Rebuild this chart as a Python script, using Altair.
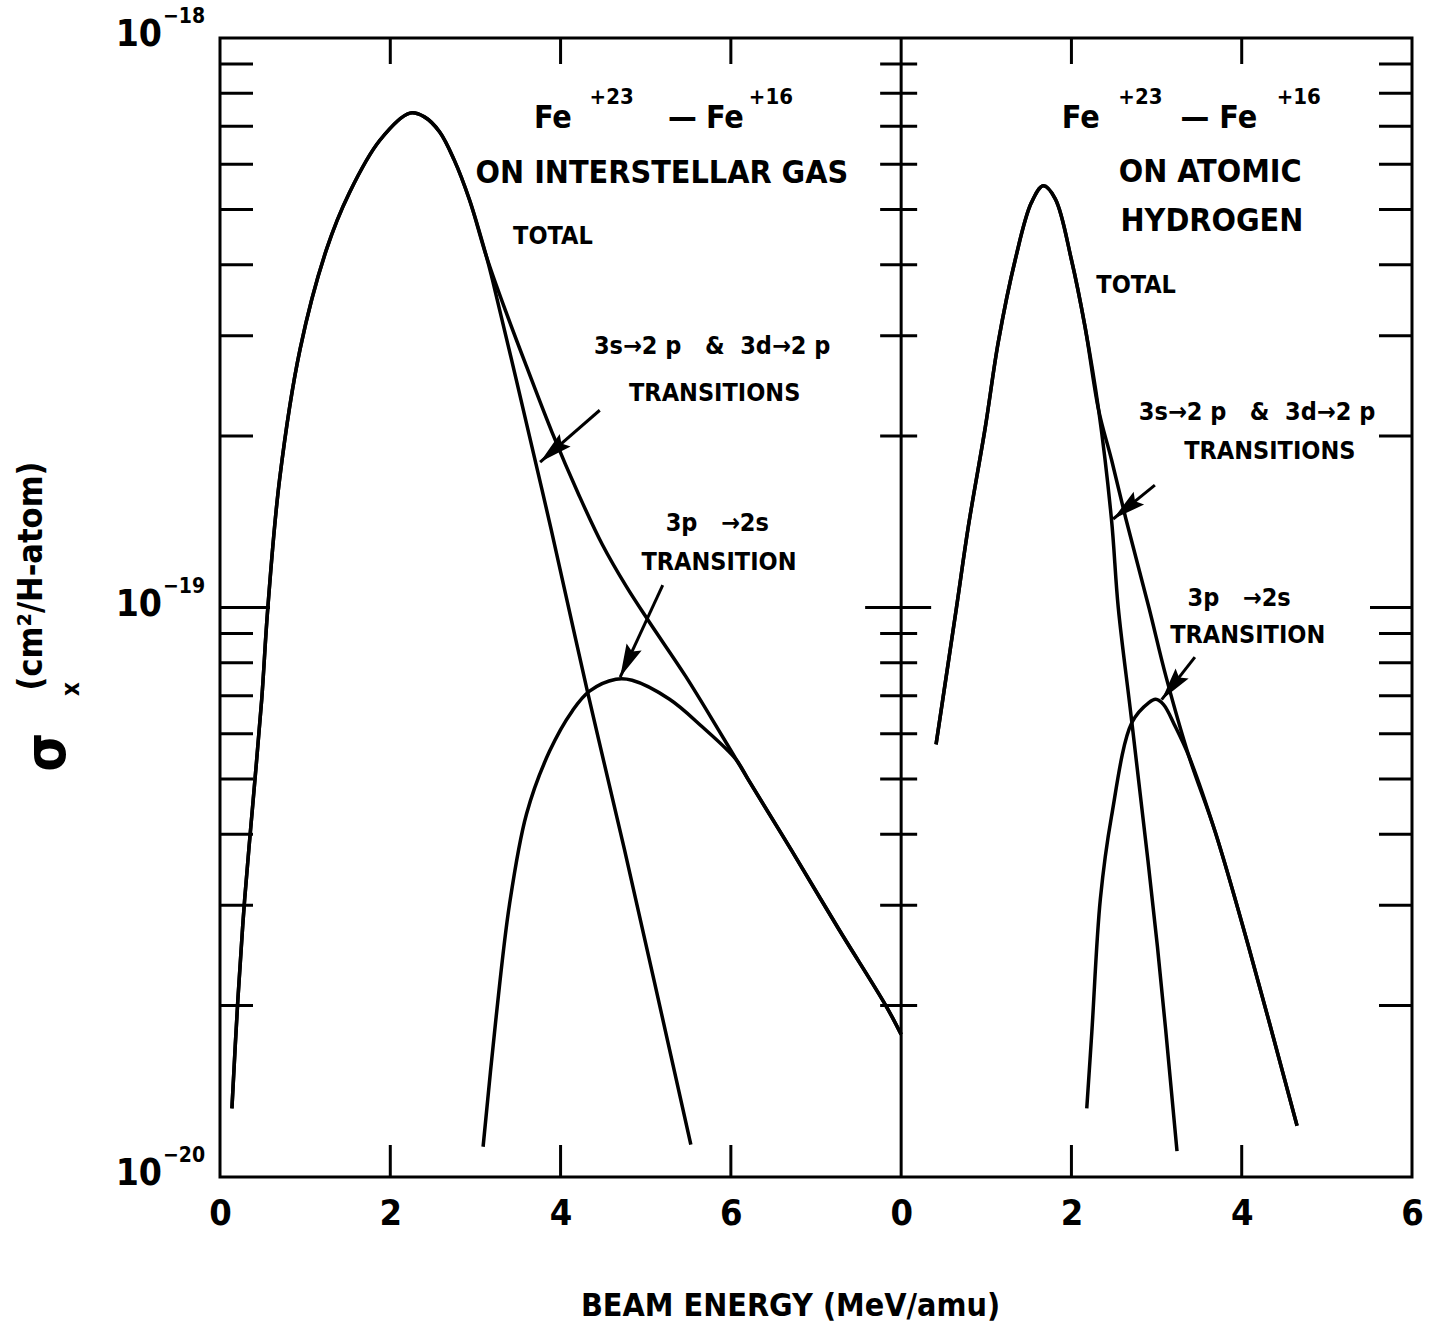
import math
import altair as alt
import pandas as pd

# ---------------- values ----------------
# x: beam energy (MeV/amu); y: cross section sigma_x (cm^2 / H-atom)

# Left panel: Fe+23 - Fe+16 on interstellar gas
gas_total_x = [0.14, 0.21, 0.29, 0.39, 0.49, 0.56, 0.70, 0.94, 1.25, 1.52, 1.88, 2.23, 2.40, 2.58, 2.75, 2.93, 3.13,
               3.36, 3.60, 3.90, 4.22, 4.49, 4.77, 5.04, 5.47, 5.86, 6.21, 6.72, 7.27, 7.82, 8.00]
gas_total_y = [1.32e-20, 2.05e-20, 3.08e-20, 4.60e-20, 6.90e-20, 9.91e-20, 1.68e-19, 2.84e-19, 4.25e-19,
               5.35e-19, 6.62e-19, 7.38e-19, 7.27e-19, 6.84e-19, 6.11e-19, 5.20e-19, 4.13e-19,
               3.30e-19, 2.65e-19, 2.03e-19, 1.57e-19, 1.29e-19, 1.09e-19, 9.44e-20, 7.57e-20, 6.08e-20,
               4.97e-20, 3.73e-20, 2.72e-20, 2.00e-20, 1.78e-20]
gas_3s3d_x = [0.14, 0.21, 0.29, 0.39, 0.49, 0.56, 0.70, 0.94, 1.25, 1.52, 1.88, 2.23, 2.40, 2.58, 2.75, 2.93, 3.13,
              3.20, 3.48, 3.89, 4.31, 4.75, 5.53]
gas_3s3d_y = [1.32e-20, 2.05e-20, 3.08e-20, 4.60e-20, 6.90e-20, 9.91e-20, 1.68e-19, 2.84e-19, 4.25e-19,
              5.35e-19, 6.62e-19, 7.38e-19, 7.27e-19, 6.84e-19, 6.11e-19, 5.20e-19, 4.13e-19,
              3.76e-19, 2.51e-19, 1.37e-19, 7.18e-20, 3.76e-20, 1.14e-20]
gas_3p_x = [3.09, 3.24, 3.40, 3.60, 3.87, 4.14, 4.34, 4.65, 4.84, 5.28, 5.66, 6.06, 6.21, 6.72, 7.27, 7.82, 8.00]
gas_3p_y = [1.13e-20, 1.89e-20, 3.01e-20, 4.34e-20, 5.59e-20, 6.59e-20, 7.13e-20, 7.48e-20, 7.45e-20,
            6.90e-20, 6.18e-20, 5.41e-20, 4.97e-20, 3.73e-20, 2.72e-20, 2.00e-20, 1.78e-20]

# Right panel: Fe+23 - Fe+16 on atomic hydrogen
h_total_x = [0.41, 0.65, 0.79, 0.99, 1.14, 1.34, 1.53, 1.67, 1.81, 2.00, 2.16, 2.32,
             2.47, 2.64, 2.91, 3.11, 3.38, 3.69, 4.08, 4.65]
h_total_y = [5.75e-20, 1.00e-19, 1.39e-19, 2.08e-19, 2.92e-19, 4.08e-19, 5.14e-19, 5.50e-19, 5.22e-19,
             4.08e-19, 3.11e-19, 2.22e-19,
             1.82e-19, 1.43e-19, 1.00e-19, 7.57e-20, 5.48e-20, 4.03e-20, 2.54e-20, 1.23e-20]
h_3s3d_x = [0.41, 0.65, 0.79, 0.99, 1.14, 1.34, 1.53, 1.67, 1.81, 2.00, 2.16, 2.32,
            2.47, 2.55, 2.71, 3.01, 3.24]
h_3s3d_y = [5.75e-20, 1.00e-19, 1.39e-19, 2.08e-19, 2.92e-19, 4.08e-19, 5.14e-19, 5.50e-19, 5.22e-19,
            4.08e-19, 3.11e-19, 2.22e-19,
            1.43e-19, 1.00e-19, 6.28e-20, 2.54e-20, 1.11e-20]
h_3p_x = [2.18, 2.24, 2.34, 2.47, 2.71, 2.91, 2.99, 3.08, 3.22, 3.38, 3.69, 4.08, 4.65]
h_3p_y = [1.32e-20, 1.80e-20, 3.08e-20, 4.29e-20, 6.28e-20, 6.81e-20, 6.90e-20, 6.76e-20, 6.18e-20,
          5.48e-20, 4.03e-20, 2.54e-20, 1.23e-20]

# axis tick values / labels
x_label_values = [0, 2, 4, 6, 8, 10, 12, 14]
x_inner_ticks = [2, 4, 6, 10, 12]
minor_y = [2e-20, 3e-20, 4e-20, 5e-20, 6e-20, 7e-20, 8e-20, 9e-20,
           2e-19, 3e-19, 4e-19, 5e-19, 6e-19, 7e-19, 8e-19, 9e-19]
decades = [1e-20, 1e-19, 1e-18]
decade_exp = ["\u221220", "\u221219", "\u221218"]

RIGHT_OFFSET = 8.0   # right panel starts where the left panel ends (x = 8)

NB = "\u00a0"
# annotations: (panel, x in MeV/amu of that panel, y, text)
title_texts = [
    ("L", 3.91, 7.24e-19, "Fe"), ("L", 5.43, 7.24e-19, "\u2014"), ("L", 5.93, 7.24e-19, "Fe"),
    ("L", 5.19, 5.79e-19, "ON INTERSTELLAR GAS"),
    ("R", 2.11, 7.24e-19, "Fe"), ("R", 3.45, 7.24e-19, "\u2014"), ("R", 3.96, 7.24e-19, "Fe"),
    ("R", 3.63, 5.82e-19, "ON ATOMIC"), ("R", 3.65, 4.77e-19, "HYDROGEN"),
]
super_texts = [
    ("L", 4.60, 7.88e-19, "+23"), ("L", 6.47, 7.88e-19, "+16"),
    ("R", 2.81, 7.88e-19, "+23"), ("R", 4.67, 7.88e-19, "+16"),
]
TRANS_3S = "3s\u21922" + NB + "p" + NB * 3 + "&" + NB * 2 + "3d\u21922" + NB + "p"
TRANS_3P = "3p" + NB * 3 + "\u21922s"
label_texts = [
    ("L", 3.91, 4.49e-19, "TOTAL"),
    ("L", 5.78, 2.88e-19, TRANS_3S),
    ("L", 5.81, 2.38e-19, "TRANSITIONS"),
    ("L", 5.84, 1.41e-19, TRANS_3P),
    ("L", 5.86, 1.20e-19, "TRANSITION"),
    ("R", 2.76, 3.68e-19, "TOTAL"),
    ("R", 4.18, 2.20e-19, TRANS_3S),
    ("R", 4.33, 1.88e-19, "TRANSITIONS"),
    ("R", 3.97, 1.04e-19, TRANS_3P),
    ("R", 4.07, 8.95e-20, "TRANSITION"),
]
# arrows: (panel, x_tail, y_tail, x_head, y_head)
arrows = [
    ("L", 4.46, 2.22e-19, 3.76, 1.80e-19),
    ("L", 5.20, 1.095e-19, 4.70, 7.55e-20),
    ("R", 2.98, 1.64e-19, 2.49, 1.43e-19),
    ("R", 3.45, 8.18e-20, 3.06, 6.89e-20),
]

# ---------------- layout / style ----------------
FONT = "'Liberation Sans Narrow', 'DejaVu Sans Condensed', 'Arial Narrow', sans-serif"
W, H = 1192, 1139
X_DIV = 8.0 / 14.0 * W

xscale = alt.Scale(domain=[0, 14], nice=False, zero=False)
yscale = alt.Scale(type="log", domain=[1e-20, 1e-18], nice=False)

x_axis = alt.Axis(
    values=x_label_values,
    labelExpr="datum.value >= 8 ? '' + (datum.value - 8) : '' + datum.value",
    ticks=False, domain=False, grid=False,
    labelFont=FONT, labelFontSize=36, labelFontWeight="bold", labelColor="black",
    labelPadding=36, labelBaseline="middle", labelFlush=False, labelOverlap=False,
    title="BEAM ENERGY (MeV/amu)", titleFont=FONT, titleFontSize=32, titleFontWeight="bold",
    titleColor="black", titleX=570, titleY=128, titleAlign="center", titleBaseline="middle",
)


def X(field):
    return alt.X(field, scale=xscale, axis=x_axis)


def Y(field):
    return alt.Y(field, scale=yscale, axis=None)


def off(panel):
    return RIGHT_OFFSET if panel == "R" else 0.0


# curves table
rows = []
for name, xs, ys, p in [
    ("gas_total", gas_total_x, gas_total_y, "L"),
    ("gas_3s3d", gas_3s3d_x, gas_3s3d_y, "L"),
    ("gas_3p", gas_3p_x, gas_3p_y, "L"),
    ("h_total", h_total_x, h_total_y, "R"),
    ("h_3s3d", h_3s3d_x, h_3s3d_y, "R"),
    ("h_3p", h_3p_x, h_3p_y, "R"),
]:
    for i, (xv, yv) in enumerate(zip(xs, ys)):
        rows.append({"series": name, "x": xv + off(p), "v": yv, "i": i})
curves_df = pd.DataFrame(rows)

curves = alt.Chart(curves_df).mark_line(
    color="black", strokeWidth=3.5, interpolate="catmull-rom"
).encode(
    x=X("x:Q"), y=Y("v:Q"), detail="series:N", order="i:Q"
)

divider = alt.Chart(pd.DataFrame({"x": [RIGHT_OFFSET]})).mark_rule(
    color="black", strokeWidth=3).encode(x=X("x:Q"))

minor_df = pd.DataFrame({"v": minor_y})
dec_df = pd.DataFrame({"v": [1e-19]})
TICK = dict(color="black", strokeWidth=3)
ticks = [
    alt.Chart(minor_df).mark_rule(**TICK).encode(y=Y("v:Q"), x=alt.value(0), x2=alt.value(33)),
    alt.Chart(minor_df).mark_rule(**TICK).encode(y=Y("v:Q"), x=alt.value(X_DIV - 21), x2=alt.value(X_DIV + 16)),
    alt.Chart(minor_df).mark_rule(**TICK).encode(y=Y("v:Q"), x=alt.value(W - 33), x2=alt.value(W)),
    alt.Chart(dec_df).mark_rule(**TICK).encode(y=Y("v:Q"), x=alt.value(0), x2=alt.value(50)),
    alt.Chart(dec_df).mark_rule(**TICK).encode(y=Y("v:Q"), x=alt.value(X_DIV - 36), x2=alt.value(X_DIV + 30)),
    alt.Chart(dec_df).mark_rule(**TICK).encode(y=Y("v:Q"), x=alt.value(W - 42), x2=alt.value(W)),
]
xt_df = pd.DataFrame({"x": x_inner_ticks})
ticks += [
    alt.Chart(xt_df).mark_rule(**TICK).encode(x=X("x:Q"), y=alt.value(0), y2=alt.value(26)),
    alt.Chart(xt_df).mark_rule(**TICK).encode(x=X("x:Q"), y=alt.value(H - 32), y2=alt.value(H)),
]

# y tick labels 10^n
dec_lab_df = pd.DataFrame({"v": decades, "e": decade_exp})
ylab_base = alt.Chart(dec_lab_df).mark_text(
    font=FONT, fontSize=37, fontWeight="bold", color="black", align="right", baseline="middle", dy=-3
).encode(y=Y("v:Q"), x=alt.value(-58), text=alt.value("10"))
ylab_exp = alt.Chart(dec_lab_df).mark_text(
    font=FONT, fontSize=21, fontWeight="bold", color="black", align="left", baseline="middle", dy=-21
).encode(y=Y("v:Q"), x=alt.value(-57), text="e:N")

# y title
one = pd.DataFrame({"a": [0]})
sig = alt.Chart(one).mark_text(font=FONT, fontSize=56, fontWeight="bold", color="black", angle=270,
                               align="center", baseline="middle", text="\u03c3").encode(
    x=alt.value(-172), y=alt.value(714))
sig_sub = alt.Chart(one).mark_text(font=FONT, fontSize=24, fontWeight="bold", color="black", angle=270,
                                   align="center", baseline="middle", text="x").encode(
    x=alt.value(-148), y=alt.value(651))
unit = alt.Chart(one).mark_text(font=FONT, fontSize=34, fontWeight="bold", color="black", angle=270,
                                align="center", baseline="middle", text="(cm\u00b2/H-atom)").encode(
    x=alt.value(-188), y=alt.value(538))


def text_layer(items, size):
    df = pd.DataFrame([{"x": xv + off(p), "v": yv, "t": t} for p, xv, yv, t in items])
    return alt.Chart(df).mark_text(
        font=FONT, fontSize=size, fontWeight="bold", color="black", align="center", baseline="middle"
    ).encode(x=X("x:Q"), y=Y("v:Q"), text="t:N")


titles = text_layer(title_texts, 32)
supers = text_layer(super_texts, 22)
labels = text_layer(label_texts, 25)


# arrows
def to_px(xv, yv):
    return xv / 14.0 * W, (-18.0 - math.log10(yv)) / 2.0 * H


arr_rows = []
for p, xt, yt, xh, yh in arrows:
    x0, y0 = xt + off(p), yt
    x1, y1 = xh + off(p), yh
    (px0, py0), (px1, py1) = to_px(x0, y0), to_px(x1, y1)
    ang = math.degrees(math.atan2(px1 - px0, -(py1 - py0))) % 360
    arr_rows.append({"x0": x0, "v0": y0, "x1": x1, "v1": y1, "ang": ang})
arr_df = pd.DataFrame(arr_rows)

shafts = alt.Chart(arr_df).mark_rule(color="black", strokeWidth=3).encode(
    x=X("x0:Q"), y=Y("v0:Q"), x2=alt.X2("x1:Q"), y2=alt.Y2("v1:Q"))
heads = alt.Chart(arr_df).mark_point(
    shape="M0,0L0.5,2L0,1.7L-0.5,2Z", filled=True, color="black", opacity=1, size=1100
).encode(x=X("x1:Q"), y=Y("v1:Q"), angle=alt.Angle("ang:Q", scale=None))

chart = alt.layer(
    curves, divider, *ticks, ylab_base, ylab_exp, sig, sig_sub, unit,
    titles, supers, labels, shafts, heads
).properties(
    width=W, height=H,
    autosize=alt.AutoSizeParams(type="none"),
    padding={"left": 220, "top": 38, "right": 18, "bottom": 150},
    background="white",
).configure_view(stroke="black", strokeWidth=3)

chart.save("out.html", embed_options={"renderer": "svg", "actions": False})
